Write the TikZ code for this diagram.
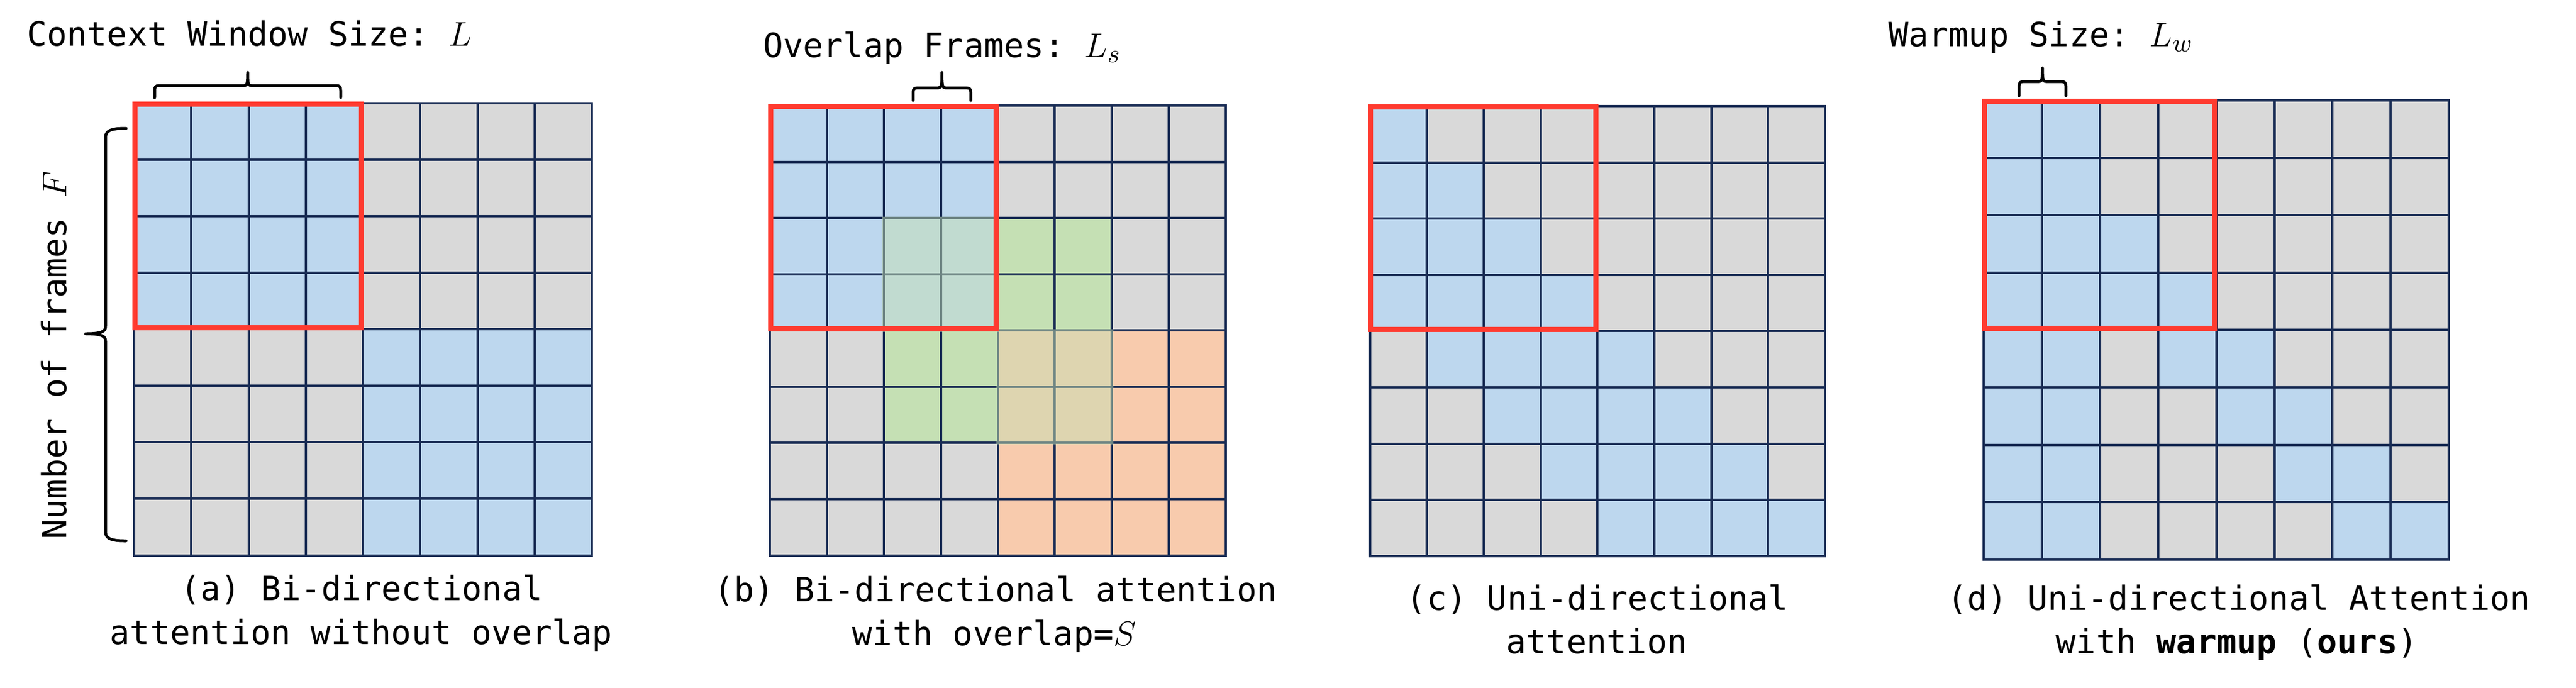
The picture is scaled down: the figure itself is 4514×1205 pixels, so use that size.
\documentclass[tikz,border=0pt]{standalone}
\usepackage{fontspec}
\setmonofont{DejaVu Sans Mono}
\definecolor{cellgray}{HTML}{D9D9D9}
\definecolor{cellblue}{HTML}{BDD7EE}
\definecolor{cellgreen}{HTML}{C5E0B4}
\definecolor{cellorange}{HTML}{F8CBAD}
\definecolor{navy}{HTML}{1A2D55}
\definecolor{boxred}{HTML}{FF3B30}
\tikzset{
  gridline/.style={draw=navy, line width=0.8pt},
  redbox/.style={draw=boxred, line width=1.7pt},
  bracelin/.style={draw=black, line width=1pt, line cap=round, line join=round},
  lbl/.style={inner sep=0pt, font=\ttfamily\fontsize{11.7}{14}\selectfont},
  overlay/.style={fill=cellgreen, fill opacity=0.5},
}
\newcommand\mth[1]{{\fontsize{12.9}{14}\selectfont$#1$}}
\def\PX{0}\def\PY{0}\def\PW{100}\def\PH{100}
\newcommand\pblock[5]{\fill[#5] ({\PX+(#1)*\PW},{\PY+(#2)*\PH}) rectangle ({\PX+(#3)*\PW},{\PY+(#4)*\PH});}
\newcommand\pgridlines{%
  \foreach \i in {1,...,7}{%
    \draw[gridline] ({\PX+\i*\PW},\PY) -- ({\PX+\i*\PW},{\PY+8*\PH});
    \draw[gridline] (\PX,{\PY+\i*\PH}) -- ({\PX+8*\PW},{\PY+\i*\PH});
  }
  \draw[gridline] (\PX,\PY) rectangle ({\PX+8*\PW},{\PY+8*\PH});}
\newcommand\predwin{\draw[redbox] ({\PX+1.5},{\PY+1.5}) rectangle ({\PX+4*\PW-3},{\PY+4*\PH-3});}
\newcommand\hbrace[5]{%
  \draw[bracelin] (#1,#3) -- (#1,{#4+8}) .. controls (#1,{#4+2}) and ({#1+2},#4) .. ({#1+8},#4)
   -- ({(#1+#2)/2-6},#4) .. controls ({(#1+#2)/2-1},#4) and ({(#1+#2)/2},{#4-4}) .. ({(#1+#2)/2},#5)
   .. controls ({(#1+#2)/2},{#4-4}) and ({(#1+#2)/2+1},#4) .. ({(#1+#2)/2+6},#4)
   -- ({#2-8},#4) .. controls ({#2-2},#4) and (#2,{#4+2}) .. (#2,{#4+8}) -- (#2,#3);}
\begin{document}
\begin{tikzpicture}[x={(0.2pt,0)}, y={(0,-0.2pt)}]
\useasboundingbox[fill=white] (0,0) rectangle (4514,1205);

% ---------- panel (a)
\def\PX{235}\def\PY{181}\def\PW{100.25}\def\PH{99.06}
\pblock{0}{0}{8}{8}{cellgray}
\pblock{0}{0}{4}{4}{cellblue}
\pblock{4}{4}{8}{8}{cellblue}
\pgridlines
\predwin
\hbrace{271}{597}{171}{150}{127}
\draw[bracelin] (221,225) .. controls (200,225) and (185,227) .. (185,240) -- (185,572)
  .. controls (185,580) and (180,585) .. (150,585) .. controls (180,585) and (185,590) .. (185,598)
  -- (185,933) .. controls (185,946) and (200,948) .. (221,948);
\node[lbl, anchor=base west] (ta) at (46,80) {Context Window Size: \mth{L}};
\node[lbl, rotate=90, anchor=base] (nf) at (116,623) {Number of frames \mth{F}};
\node[lbl, anchor=base] (ca1) at (633.5,1052) {(a) Bi-directional};
\node[lbl, anchor=base] (ca2) at (633,1129) {attention without overlap};

% ---------- panel (b)
\def\PX{1349}\def\PY{185}\def\PW{99.875}\def\PH{98.56}
\pblock{0}{0}{8}{8}{cellgray}
\pblock{2}{2}{6}{6}{cellgreen}
\pblock{0}{0}{4}{4}{cellblue}
\pblock{4}{4}{8}{8}{cellorange}
\pgridlines
\fill[overlay] ({\PX+2*\PW-2.5},{\PY+2*\PH-2.5}) rectangle ({\PX+4*\PW+2.5},{\PY+4*\PH+2.5});
\fill[overlay] ({\PX+4*\PW-2.5},{\PY+4*\PH-2.5}) rectangle ({\PX+6*\PW+2.5},{\PY+6*\PH+2.5});
\predwin
\hbrace{1600}{1701}{176}{154}{127}
\node[lbl, anchor=base west] (tb) at (1336,100) {Overlap Frames: \mth{L_s}};
\node[lbl, anchor=base] (cb1) at (1744.5,1054) {(b) Bi-directional attention};
\node[lbl, anchor=base] (cb2) at (1742.5,1131) {with overlap=\mth{S}};

% ---------- panel (c)
\def\PX{2400.5}\def\PY{186}\def\PW{99.7}\def\PH{98.6}
\pblock{0}{0}{8}{8}{cellgray}
\pblock{0}{0}{1}{1}{cellblue}
\pblock{0}{1}{2}{2}{cellblue}
\pblock{0}{2}{3}{3}{cellblue}
\pblock{0}{3}{4}{4}{cellblue}
\pblock{1}{4}{5}{5}{cellblue}
\pblock{2}{5}{6}{6}{cellblue}
\pblock{3}{6}{7}{7}{cellblue}
\pblock{4}{7}{8}{8}{cellblue}
\pgridlines
\predwin
\node[lbl, anchor=base] (cc1) at (2799.5,1069) {(c) Uni-directional};
\node[lbl, anchor=base] (cc2) at (2798,1145) {attention};

% ---------- panel (d)
\def\PX{3476}\def\PY{176}\def\PW{101.9}\def\PH{100.6}
\pblock{0}{0}{8}{8}{cellgray}
\pblock{0}{0}{2}{8}{cellblue}
\pblock{2}{2}{3}{3}{cellblue}
\pblock{2}{3}{4}{4}{cellblue}
\pblock{3}{4}{5}{5}{cellblue}
\pblock{4}{5}{6}{6}{cellblue}
\pblock{5}{6}{7}{7}{cellblue}
\pblock{6}{7}{8}{8}{cellblue}
\pgridlines
\predwin
\hbrace{3538}{3620}{168}{143}{119}
\node[lbl, anchor=base west] (td) at (3308,81) {Warmup Size: \mth{L_w}};
\node[lbl, anchor=base] (cd1) at (3923,1069) {(d) Uni-directional Attention};
\node[lbl, anchor=base] (cd2) at (3919.5,1145) {with \textbf{warmup} (\textbf{ours})};
\end{tikzpicture}
\end{document}
